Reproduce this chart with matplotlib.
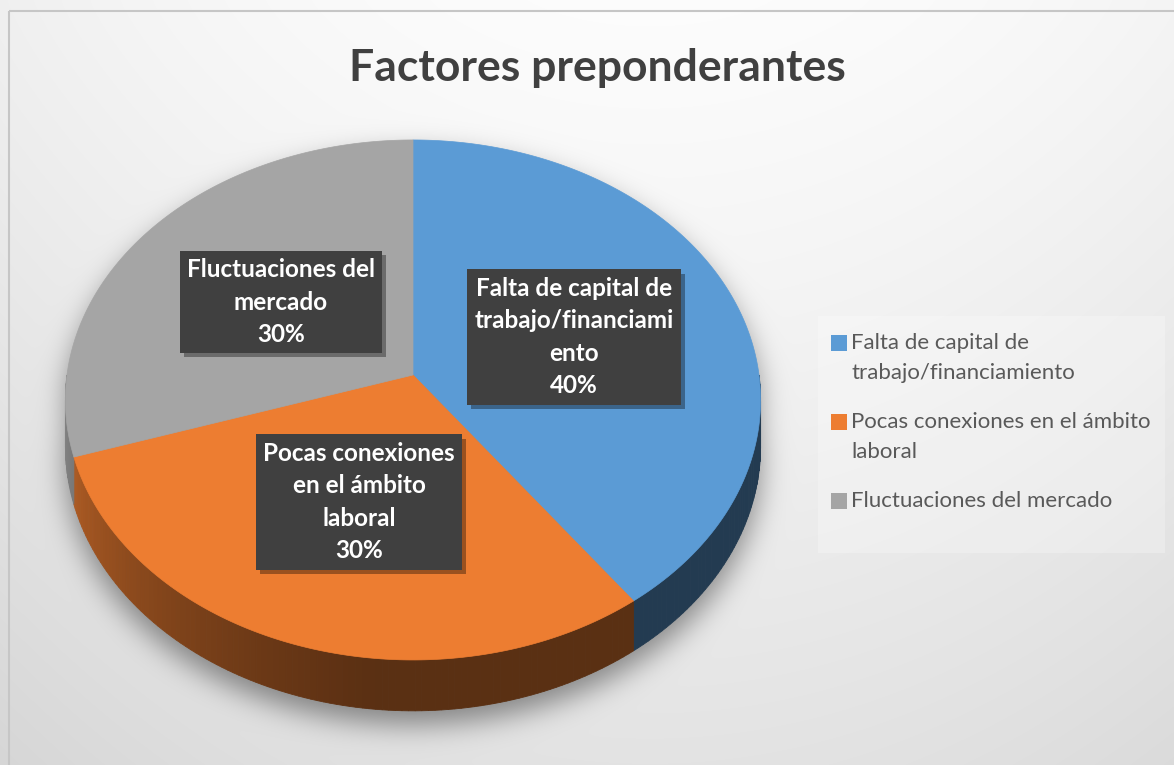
import numpy as np
import matplotlib.pyplot as plt
from matplotlib.path import Path
from matplotlib.patches import Polygon, Rectangle
import matplotlib.patheffects as pe

plt.rcParams['font.family'] = ['Lato', 'DejaVu Sans']

title = "Factores preponderantes"
categories = ["Falta de capital de\ntrabajo/financiamiento",
              "Pocas conexiones en el ámbito\nlaboral",
              "Fluctuaciones del mercado"]
box_labels = ["Falta de capital de\ntrabajo/financiami\nento",
              "Pocas conexiones\nen el ámbito\nlaboral",
              "Fluctuaciones del\nmercado"]
values = [40, 30, 30]
colors = ["#5B9BD5", "#ED7D31", "#A5A5A5"]

W, H = 1174, 765
# pie geometry in pixels, simple perspective tilt
CX, CY = 413, 375
RA, RB = 346, 257.6
PERSP = 0.096
DEPTH = 46


def proj(phi, z=0.0):
    p = np.radians(phi)
    X, Y = np.cos(p), np.sin(p)
    w = 1 + PERSP * Y
    return CX + RA * X / w, CY - RB * Y / w + z * DEPTH / w


def side_shade(phi):
    # lighter on the left front, dark towards the right
    return 0.38 + 0.40 * np.clip((-95 - phi) / 75, 0, 1) ** 1.2


def hex2rgb(h):
    h = h.lstrip('#')
    return np.array([int(h[i:i + 2], 16) for i in (0, 2, 4)]) / 255.0


fig = plt.figure(figsize=(W / 100, H / 100), dpi=100)
ax = fig.add_axes([0, 0, 1, 1])
ax.set_xlim(0, W)
ax.set_ylim(H, 0)
ax.axis('off')

# background gradient
yy, xx = np.mgrid[0:H, 0:W] + 0.5
bg = 0.99 - 0.10 * (yy / H) ** 1.2 - 0.05 * ((xx - 650) / 650) ** 2

# soft shadow below the pie
t = np.linspace(0, 180, 200)
outline = [proj(a, 0) for a in t] + [proj(a, 1) for a in np.linspace(180, 360, 200)]
outline = np.array(outline)
outline[:, 1] += 14
mask = Path(outline).contains_points(np.c_[xx.ravel(), yy.ravel()]).reshape(H, W).astype(float)
k = np.exp(-0.5 * (np.arange(-45, 46) / 14.0) ** 2)
k /= k.sum()
mask = np.apply_along_axis(lambda r: np.convolve(r, k, mode='same'), 1, mask)
mask = np.apply_along_axis(lambda c: np.convolve(c, k, mode='same'), 0, mask)
bg = bg * (1 - 0.42 * mask)
ax.imshow(np.dstack([bg, bg, bg]).clip(0, 1), extent=(0, W, H, 0), zorder=0)

ax.add_patch(Rectangle((8.5, 10.5), W + 20, H + 20, fill=False, edgecolor='#C6C6C6', lw=1.5, zorder=1))

# slice angles, clockwise from the top
total = sum(values)
starts = 90 - np.cumsum([0] + values[:-1]) * 360 / total
ends = starts - np.array(values) * 360 / total

# side walls (front half only)
for s, e, c in zip(starts, ends, colors):
    lo, hi = max(e, -180), min(s, 0)
    if lo >= hi:
        continue
    base = hex2rgb(c)
    edges = np.linspace(lo, hi, int(hi - lo) + 2)
    for a0, a1 in zip(edges[:-1], edges[1:]):
        quad = [proj(a0, 0), proj(a1, 0), proj(a1, 1), proj(a0, 1)]
        col = base * side_shade((a0 + a1) / 2)
        ax.add_patch(Polygon(quad, closed=True, facecolor=col, edgecolor=col, lw=0.6, zorder=2))

# top faces
for s, e, c in zip(starts, ends, colors):
    arc = [proj(a, 0) for a in np.linspace(s, e, 200)]
    ax.add_patch(Polygon([(CX, CY)] + arc, closed=True, facecolor=c, edgecolor=c, lw=0.5, zorder=3))

# data label boxes
box_pos = [(574, 337), (359, 502), (281, 302)]
for lab, v, (bx, by) in zip(box_labels, values, box_pos):
    txt = ax.text(bx, by, f"{lab}\n{v / total * 100:.0f}%", ha='center', va='center',
                  fontsize=17.5, fontweight='bold', color='white', linespacing=1.5, zorder=5,
                  bbox=dict(boxstyle='square,pad=0.3', facecolor='#404040', edgecolor='none'))
    txt.get_bbox_patch().set_path_effects([pe.withSimplePatchShadow(offset=(3, -3), shadow_rgbFace='k', alpha=0.35)])

# legend
ax.add_patch(Rectangle((818, 316), 347, 237, facecolor='white', alpha=0.25, edgecolor='none', zorder=1))
leg_y = [335, 414, 493]
for cat, c, ly in zip(categories, colors, leg_y):
    ax.scatter([838.5], [ly + 8], marker='s', s=125, color=c, zorder=5, linewidths=0)
    ax.text(851, ly - 2, cat, ha='left', va='top', fontsize=16, color='#595959', linespacing=1.62, zorder=5)

ax.text(597, 81, title, ha='center', va='baseline', fontsize=32, fontweight='bold', color='#404040', zorder=5)

fig.savefig('out.png', dpi=100)
